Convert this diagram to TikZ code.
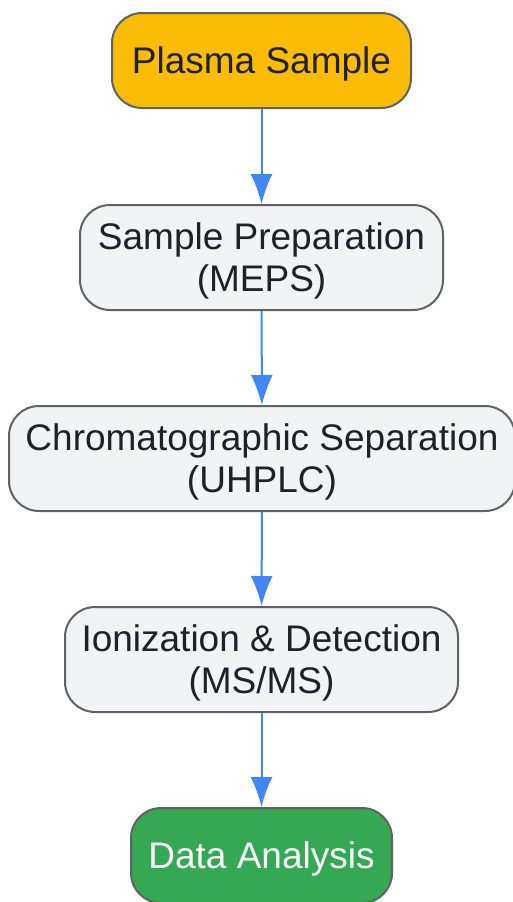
\documentclass[tikz,border=0pt]{standalone}
\usepackage{fontspec}
\setmainfont{Liberation Sans}
\usetikzlibrary{arrows.meta}

\definecolor{plasmaorange}{HTML}{FBBC05}
\definecolor{stepgray}{HTML}{F1F3F4}
\definecolor{edgegray}{HTML}{5F6368}
\definecolor{resultgreen}{HTML}{34A853}
\definecolor{flowblue}{HTML}{4285F4}
\definecolor{textdark}{HTML}{202124}

\begin{document}
\begin{tikzpicture}[x=1pt, y=-1pt,
        stepbox/.style={draw=edgegray, line width=2pt, rounded corners=30pt, fill=stepgray, text=textdark, align=center, inner sep=0pt, font=\fontsize{37}{42}\selectfont, text depth=0pt},
        flow/.style={draw=flowblue, line width=2pt, -{Latex[length=30pt, width=22pt]}}]

        \useasboundingbox (0,0) rectangle (513,902);

        % Process steps
        \node at (261.5,60.5) [stepbox, fill=plasmaorange, minimum width=299pt, minimum height=95pt] (plasma) {Plasma Sample};
        \node at (261.5,257.5) [stepbox, minimum width=363pt, minimum height=105pt] (prep) {Sample Preparation\\(MEPS)};
        \node at (262,458.5) [stepbox, minimum width=506pt, minimum height=105pt] (chrom) {Chromatographic Separation\\(UHPLC)};
        \node at (261.5,659.5) [stepbox, minimum width=393pt, minimum height=105pt] (ion) {Ionization \& Detection\\(MS/MS)};
        \node at (261.5,855.5) [stepbox, fill=resultgreen, text=white, minimum width=261pt, minimum height=95pt] (data) {Data Analysis};

        % Arrows
        \draw [flow] (plasma) -- (prep);
        \draw [flow] (prep) -- (chrom);
        \draw [flow] (chrom) -- (ion);
        \draw [flow] (ion) -- (data);

    \end{tikzpicture}
\end{document}
